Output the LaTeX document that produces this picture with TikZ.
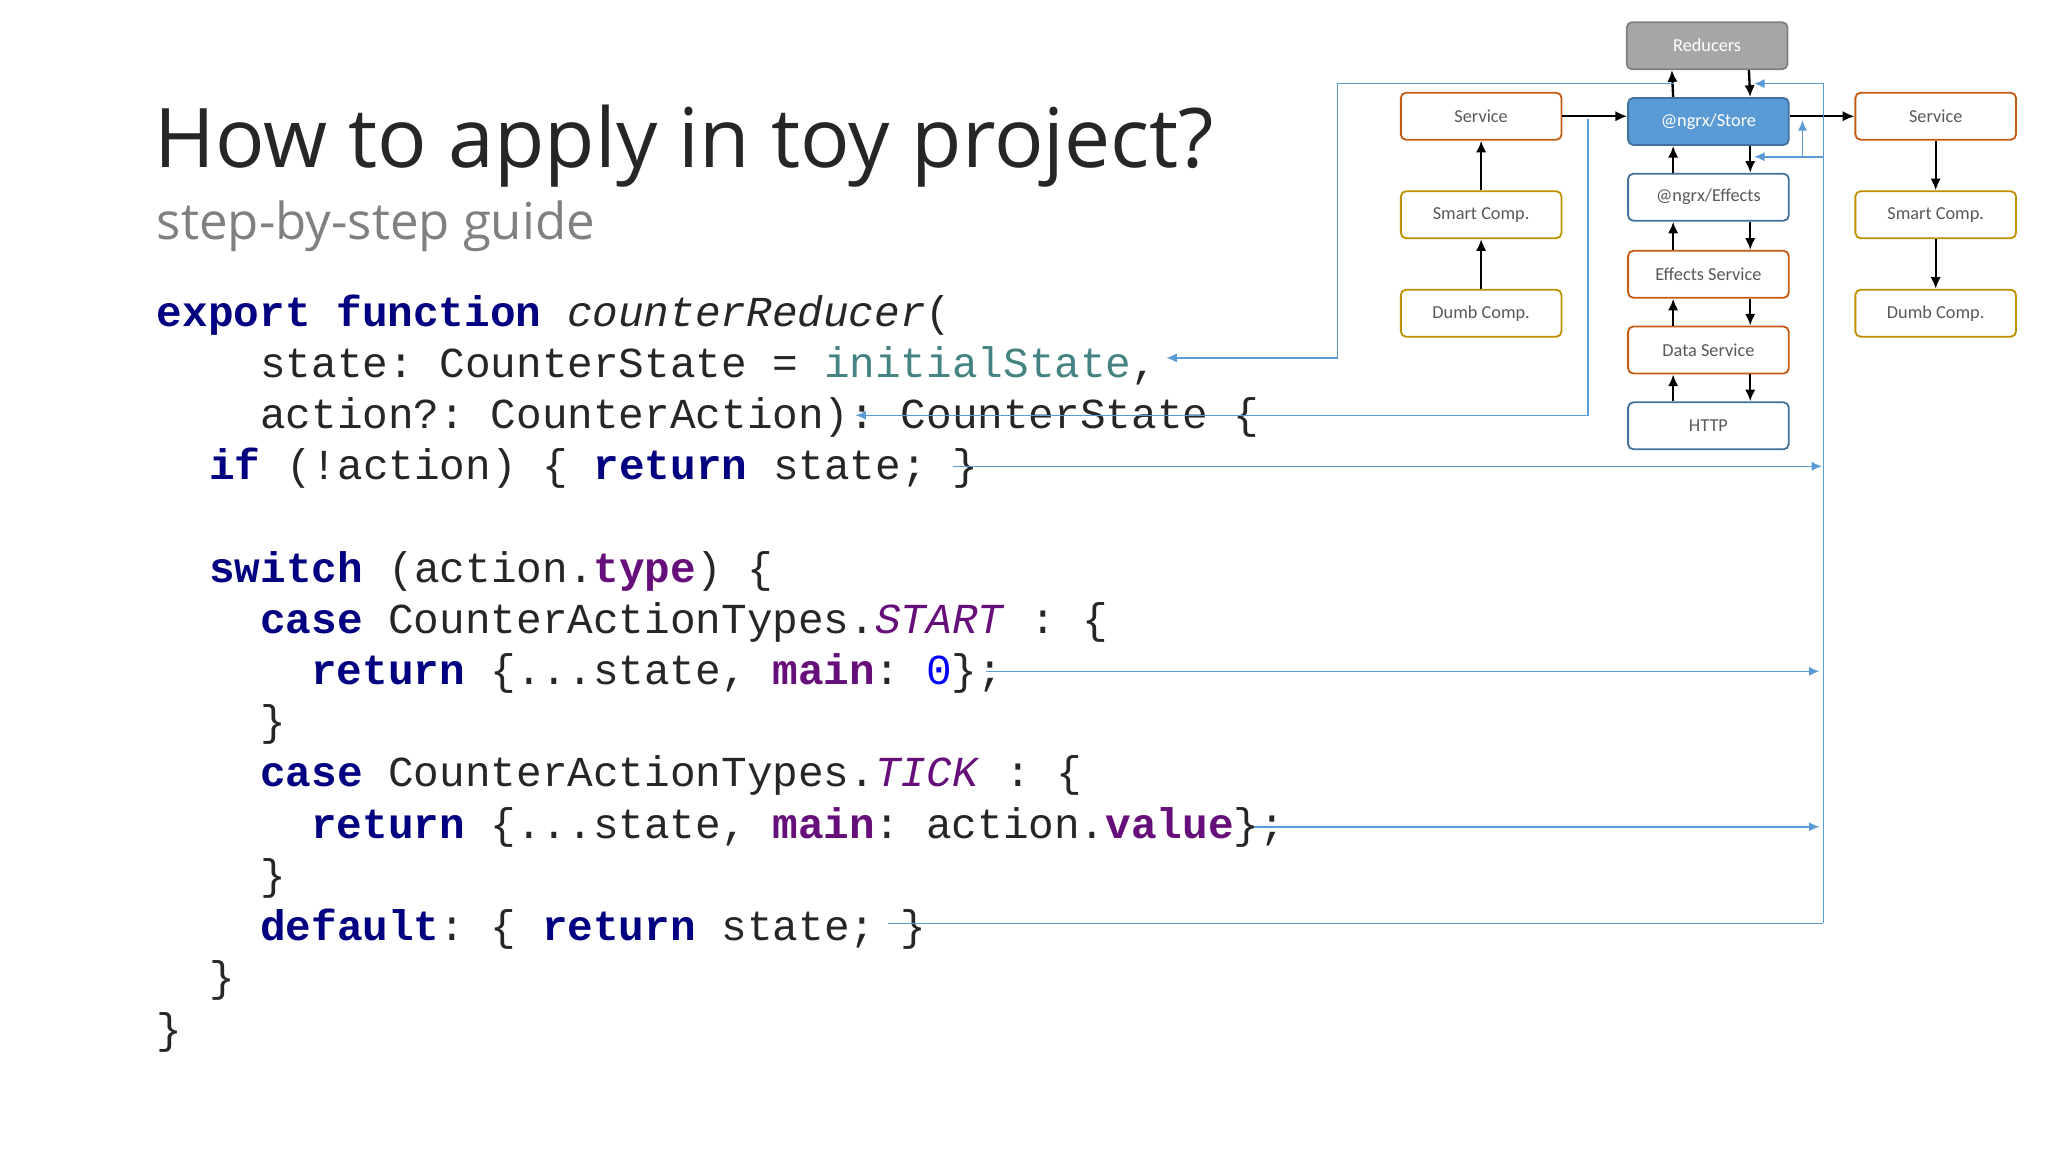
\documentclass[tikz,border=0pt]{standalone}
\usepackage{fontspec}
\setmainfont{Open Sans}
\newfontfamily\boxfont{Carlito}
\setmonofont{Liberation Mono}
\usetikzlibrary{positioning,calc,arrows.meta}
\definecolor{kw}{HTML}{000080}
\definecolor{fld}{HTML}{660E7A}
\definecolor{teal}{HTML}{458383}
\definecolor{flow}{HTML}{5B9BD5}
\definecolor{dkblue}{HTML}{41719C}
\definecolor{orng}{HTML}{C55A11}
\definecolor{gold}{HTML}{BF9000}
\newcommand{\kw}[1]{\textcolor{kw}{\textbf{#1}}}
\newcommand{\fd}[1]{\textcolor{fld}{\textbf{#1}}}
\begin{document}
\begin{tikzpicture}[x=1pt,y=-1pt,
  box/.style={draw,rounded corners=4pt,line width=1.4pt,minimum width=123pt,minimum height=36pt,
    font=\boxfont\fontsize{14}{16}\selectfont,text=black!65,fill=white},
  code/.style={anchor=base west,font=\ttfamily\fontsize{32.7}{36}\selectfont,text=black!85,inner sep=0pt},
  arr/.style={-{Latex[length=9pt,width=8pt]},line width=1.8pt},
  blue/.style={-{Latex[length=8pt,width=7pt]},draw=flow,line width=1.2pt}]
\useasboundingbox[fill=white] (0,0) rectangle (1568,882);
% title
\node[anchor=base west,inner sep=0pt,font=\fontsize{63}{72}\selectfont,text=black!85] (title) at (118,128) {How to apply in toy project?};
\node[anchor=base west,inner sep=0pt,font=\fontsize{39}{46}\selectfont,text=black!50] (sub) at (120,183) {step-by-step guide};
% code
\node[code] (l1) at (120,250) {\kw{export function} \textit{counterReducer}(};
\node[code] (l2) at (199,289) {state: CounterState = \textcolor{teal}{initialState},};
\node[code] (l3) at (199,328) {action?: CounterAction): CounterState \{};
\node[code] (l4) at (160,367) {\kw{if} (!action) \{ \kw{return} state; \}};
\node[code] (l6) at (160,446) {\kw{switch} (action.\fd{type}) \{};
\node[code] (l7) at (199,485) {\kw{case} CounterActionTypes.\textcolor{fld}{\textit{START}} : \{};
\node[code] (l8) at (238,524) {\kw{return} \{...state, \fd{main}: \textcolor{blue}{0}\};};
\node[code] (l9) at (199,563) {\}};
\node[code] (l10) at (199,602) {\kw{case} CounterActionTypes.\textcolor{fld}{\textit{TICK}} : \{};
\node[code] (l11) at (238,642) {\kw{return} \{...state, \fd{main}: action.\fd{value}\};};
\node[code] (l12) at (199,681) {\}};
\node[code] (l13) at (199,720) {\kw{default}: \{ \kw{return} state; \}};
\node[code] (l14) at (160,759) {\}};
\node[code] (l15) at (120,799) {\}};
% diagram
\node[box,fill=black!35,draw=black!50,text=white] (red) at (1307,35) {Reducers};
\node[box,fill=flow,draw=dkblue,text=white] (store) at (1308,93) {@ngrx/Store};
\node[box,draw=dkblue] (eff) at (1308,151) {@ngrx/Effects};
\node[box,draw=orng] (effs) at (1308,210) {Effects Service};
\node[box,draw=orng] (data) at (1308,268) {Data Service};
\node[box,draw=dkblue] (http) at (1308,326) {HTTP};
\node[box,draw=orng] (lsvc) at (1134,89) {Service};
\node[box,draw=gold] (lsmart) [below=38pt of lsvc] {Smart Comp.};
\node[box,draw=gold] (ldumb) [below=38pt of lsmart] {Dumb Comp.};
\node[box,draw=orng] (rsvc) at (1482,89) {Service};
\node[box,draw=gold] (rsmart) [below=38pt of rsvc] {Smart Comp.};
\node[box,draw=gold] (rdumb) [below=38pt of rsmart] {Dumb Comp.};
\foreach \a/\b in {store/red,eff/store,effs/eff,data/effs,http/data}
  \draw[arr] ($(\a.north)+(-27,0)$) -- ($(\b.south)+(-27,0)$);
\foreach \a/\b in {red/store,store/eff,eff/effs,effs/data,data/http}
  \draw[arr] ($(\a.south)+(32,0)$) -- ($(\b.north)+(32,0)$);
\draw[arr] (ldumb) -- (lsmart);
\draw[arr] (lsmart) -- (lsvc);
\draw[arr] (rsvc) -- (rsmart);
\draw[arr] (rsmart) -- (rdumb);
\draw[arr] (lsvc.east) -- (lsvc.east -| store.west);
\draw[arr] (store.east |- rsvc) -- (rsvc.west);
% flow lines
\coordinate (rIn) at (1343,64);
\coordinate (eIn) at (1343,120);
\coordinate (bus) at (1396,707);
\draw[blue] (1282,64) -- (1024,64) -- (1024,274) -- (893,274);
\draw[blue] (1216,91) -- (1216,318) -- (655,318);
\draw[blue] (730,357) -- (1395,357);
\draw[blue] (755,514) -- (1393,514);
\draw[blue] (960,633) -- (1393,633);
\draw[blue,-] (680,707) -- (bus);
\draw[blue] (bus) -- (1396,64) -- (rIn);
\draw[blue] (1396,120) -- (eIn);
\draw[blue] (1380,120) -- (1380,92);
\end{tikzpicture}
\end{document}
